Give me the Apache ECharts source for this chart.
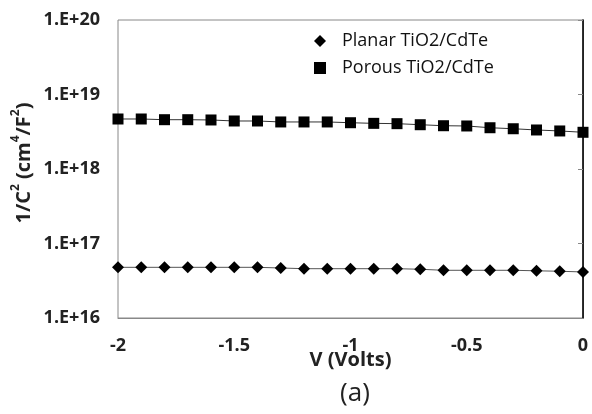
<!DOCTYPE html>
<html><head><meta charset="utf-8">
<script src="https://cdn.jsdelivr.net/npm/echarts@6/dist/echarts.min.js"></script>
<style>html,body{margin:0;padding:0;background:#fff}#c{width:592px;height:414px}</style>
</head><body><div id="c"></div>
<script>
const voltages = [-2,-1.9,-1.8,-1.7,-1.6,-1.5,-1.4,-1.3,-1.2,-1.1,-1,-0.9,-0.8,-0.7,-0.6,-0.5,-0.4,-0.3,-0.2,-0.1,0];
const planar = [4.79e16,4.79e16,4.79e16,4.79e16,4.79e16,4.79e16,4.79e16,4.69e16,4.59e16,4.59e16,4.59e16,4.59e16,4.59e16,4.51e16,4.37e16,4.37e16,4.37e16,4.37e16,4.30e16,4.24e16,4.15e16];
const porous = [4.69e18,4.69e18,4.59e18,4.59e18,4.55e18,4.41e18,4.41e18,4.28e18,4.28e18,4.28e18,4.18e18,4.10e18,4.06e18,3.93e18,3.81e18,3.78e18,3.58e18,3.47e18,3.34e18,3.24e18,3.11e18];
const seriesNames = ['Planar TiO2/CdTe','Porous TiO2/CdTe'];
const xTitle = 'V (Volts)';
const yTitle = '{b|1/C}{s|2}{b| (cm}{s|4}{b|/F}{s|2}{b|)}';
const caption = '(a)';

const FONT = 'Open Sans';
const chart = echarts.init(document.getElementById('c'));
chart.setOption({
  animation:false,
  backgroundColor:'#fff',
  title:{text:caption,left:355,textAlign:'center',top:381,padding:0,textStyle:{fontFamily:FONT,fontWeight:'normal',fontSize:26,color:'#222'}},
  legend:{orient:'vertical',left:309,top:27,itemGap:9,itemWidth:12,itemHeight:12,
    textStyle:{fontFamily:FONT,fontSize:18,color:'#111',padding:[0,0,0,11]},
    data:[{name:seriesNames[0],icon:'diamond'},{name:seriesNames[1],icon:'rect'}]},
  grid:{left:118,right:9,top:20,bottom:96,show:true,borderColor:'#888',borderWidth:1},
  xAxis:[{type:'value',min:-2,max:0,interval:0.5,
    name:xTitle,nameLocation:'middle',nameGap:32,nameMoveOverlap:false,
    nameTextStyle:{fontFamily:FONT,fontWeight:'bold',fontSize:20,color:'#222'},
    axisLine:{onZero:false,lineStyle:{color:'#888'}},axisTick:{show:false},splitLine:{show:false},
    axisLabel:{fontFamily:FONT,fontWeight:'bold',fontSize:18,color:'#222',margin:19}}],
  yAxis:[{type:'log',min:1e16,max:1e20,logBase:10,
    name:yTitle,nameLocation:'middle',nameGap:84,nameMoveOverlap:false,
    nameTextStyle:{padding:[0,0,0,12],rich:{
      b:{fontFamily:FONT,fontWeight:'bold',fontSize:20,color:'#222',lineHeight:24,verticalAlign:'bottom'},
      s:{fontFamily:FONT,fontWeight:'bold',fontSize:12,color:'#222',lineHeight:24,verticalAlign:'top'}}},
    axisLine:{lineStyle:{color:'#888'}},axisTick:{show:true,length:5,lineStyle:{color:'#888'}},
    minorTick:{show:false},splitLine:{show:false},
    axisLabel:{fontFamily:FONT,fontWeight:'bold',fontSize:18,color:'#222',margin:18,
      formatter:v=>'1.E+'+Math.round(Math.log10(v))}},
    {type:'value',position:'right',min:0,max:1,axisLine:{show:true,lineStyle:{color:'#000',width:1.5}},axisTick:{show:false},axisLabel:{show:false},splitLine:{show:false}}],
  series:[
    {name:seriesNames[0],type:'line',symbol:'diamond',symbolSize:12,
      data:voltages.map((v,i)=>[v,planar[i]]),
      lineStyle:{color:'#555',width:1},itemStyle:{color:'#000'}},
    {name:seriesNames[1],type:'line',symbol:'rect',symbolSize:11,
      data:voltages.map((v,i)=>[v,porous[i]]),
      lineStyle:{color:'#333',width:1},itemStyle:{color:'#000'}}
  ]
});
</script></body></html>
